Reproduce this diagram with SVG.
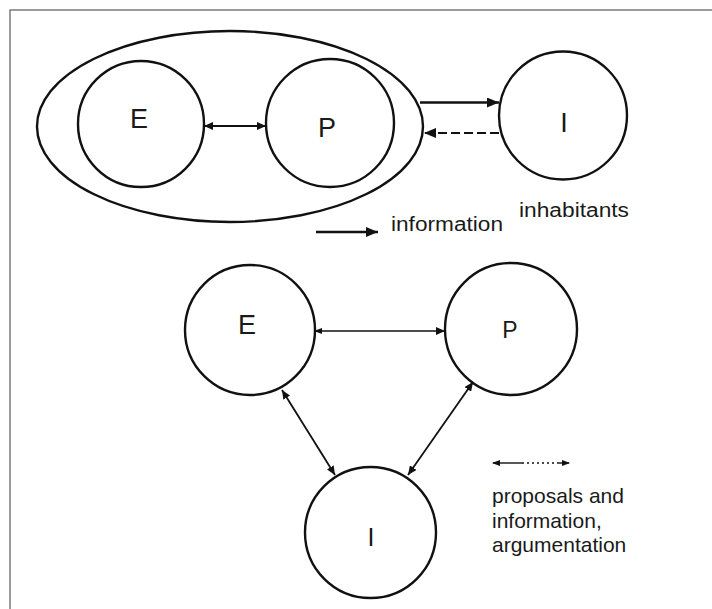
<svg xmlns="http://www.w3.org/2000/svg" width="712" height="609" viewBox="0 0 712 609">
  <style>
    .node { fill: none; stroke: #111; stroke-width: 2.4; }
    .label { font-family: "Liberation Sans", Arial, sans-serif; fill: #1a1a1a; }
    .big { font-size: 27px; text-anchor: middle; }
    .small { font-size: 20px; }
    .conn { stroke: #111; fill: none; }
  </style>
  <defs>
    <marker id="headBold" viewBox="0 0 12 10" refX="12" refY="5" markerWidth="12" markerHeight="10" markerUnits="userSpaceOnUse" orient="auto-start-reverse">
      <path d="M0,0 L12,5 L0,10 Z" fill="#111"/>
    </marker>
    <marker id="headThin" viewBox="0 0 9 8" refX="9" refY="4" markerWidth="9" markerHeight="8" markerUnits="userSpaceOnUse" orient="auto-start-reverse">
      <path d="M0,0 L9,4 L0,8 Z" fill="#111"/>
    </marker>
    <marker id="dot" viewBox="0 0 8 6" refX="7" refY="3" markerWidth="8" markerHeight="6" markerUnits="userSpaceOnUse" orient="auto-start-reverse">
      <path d="M0,0 L8,3 L0,6 Z" fill="#111"/>
    </marker>
  </defs>

  <!-- frame -->
  <g id="frame" stroke="#7a7a7a" stroke-width="1.5" fill="none">
    <line x1="9.5" y1="10" x2="712" y2="10"/>
    <line x1="10" y1="10" x2="10" y2="609"/>
  </g>

  <!-- upper scheme: E and P grouped, inhabitants outside -->
  <g id="group-EP">
    <ellipse class="node" cx="230" cy="126.5" rx="193" ry="95.5"/>
  </g>
  <g id="top-E">
    <circle class="node" cx="141" cy="124" r="63"/>
    <text class="label big" x="139" y="128">E</text>
  </g>
  <g id="top-P">
    <circle class="node" cx="330" cy="123" r="64"/>
    <text class="label big" x="327" y="137">P</text>
  </g>
  <g id="top-I">
    <circle class="node" cx="563" cy="115.5" r="64"/>
    <text class="label big" x="564" y="132">I</text>
    <text class="label small" x="519" y="217" textLength="110" lengthAdjust="spacingAndGlyphs">inhabitants</text>
  </g>
  <g id="top-legend">
    <line class="conn" x1="316" y1="232" x2="378" y2="232" stroke-width="2.6" marker-end="url(#headBold)"/>
    <text class="label small" x="391" y="231" textLength="112" lengthAdjust="spacingAndGlyphs">information</text>
  </g>

  <!-- lower scheme: E, P, I in dialogue -->
  <g id="bottom-E">
    <circle class="node" cx="250" cy="330" r="65"/>
    <text class="label big" x="247" y="334">E</text>
  </g>
  <g id="bottom-P">
    <circle class="node" cx="511" cy="329" r="66"/>
    <text class="label" x="510" y="338" font-size="23" text-anchor="middle">P</text>
  </g>
  <g id="bottom-I">
    <circle class="node" cx="370.5" cy="532.5" r="65.5"/>
    <text class="label" x="371" y="546" font-size="25" text-anchor="middle">I</text>
  </g>
  <g id="bottom-legend">
    <line class="conn" x1="493" y1="463" x2="522" y2="463" stroke-width="1.4" marker-start="url(#dot)"/>
    <line class="conn" x1="522" y1="463" x2="558" y2="463" stroke-width="1.4" stroke-dasharray="2 3"/>
    <line class="conn" x1="558" y1="463" x2="569" y2="463" stroke-width="1.4" marker-end="url(#dot)"/>
    <text class="label" font-size="21">
      <tspan x="492" y="503">proposals and</tspan>
      <tspan x="492" y="528">information,</tspan>
      <tspan x="492" y="552">argumentation</tspan>
    </text>
  </g>

  <!-- connectors -->
  <g id="connectors">
    <line class="conn" x1="204" y1="126" x2="266" y2="126" stroke-width="2.2" marker-start="url(#headThin)" marker-end="url(#headThin)"/>
    <line class="conn" x1="420" y1="102.5" x2="499" y2="102.5" stroke-width="2.6" marker-end="url(#headBold)"/>
    <line class="conn" x1="499" y1="133" x2="424" y2="133" stroke-width="2.2" stroke-dasharray="9 4" marker-end="url(#headBold)"/>
    <line class="conn" x1="315" y1="331" x2="445" y2="331" stroke-width="1.6" marker-start="url(#dot)" marker-end="url(#headThin)"/>
    <line class="conn" x1="282" y1="390" x2="335" y2="475" stroke-width="1.8" marker-start="url(#headThin)" marker-end="url(#headThin)"/>
    <line class="conn" x1="473" y1="382" x2="408" y2="475" stroke-width="1.8" marker-start="url(#headThin)" marker-end="url(#headThin)"/>
  </g>
</svg>
